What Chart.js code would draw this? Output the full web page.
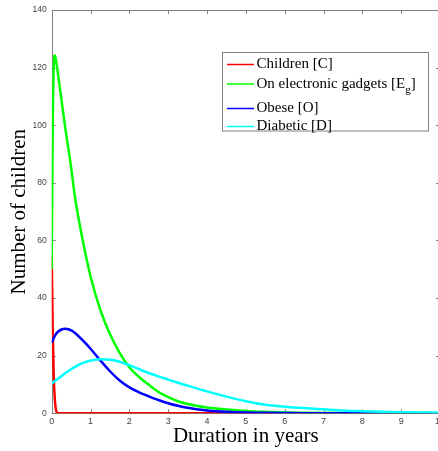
<!DOCTYPE html>
<html><head><meta charset="utf-8">
<script src="https://cdn.jsdelivr.net/npm/chart.js@4/dist/chart.umd.min.js"></script>
<style>
html,body{margin:0;padding:0;overflow:hidden;background:#fff;width:438px;height:451px}
#wrap{position:absolute;left:0;top:0;width:448px;height:451px}
</style>
</head><body>
<div id="wrap"><canvas id="c" width="448" height="451"></canvas></div>
<script>
// ---- data ----
const years = [0,0.025,0.05,0.075,0.1,0.125,0.15,0.2,0.25,0.3,0.35,0.4,0.5,0.6,0.75,0.9,1,1.25,1.5,1.75,2,2.25,2.5,2.75,3,3.25,3.5,4,4.5,5,5.5,6,6.5,7,7.5,8,8.5,9,9.5,10];
const children = [55,30,14,6,2,0.5,0.1,0,0,0,0,0,0,0,0,0,0,0,0,0,0,0,0,0,0,0,0,0,0,0,0,0,0,0,0,0,0,0,0,0];
const gadgets = [50,98,119,124.3,123.5,121.5,119,114,109,104,99,94.5,85.5,75,63.5,53.5,47.5,36,27.5,21,16,12.6,9.9,7.4,5.6,4.2,3.2,2.0,1.3,0.8,0.5,0.3,0.2,0.12,0.08,0.05,0.03,0.02,0.01,0.01];
const obese = [24.5,25.3,26.0,26.7,27.3,27.8,28.2,28.7,29.1,29.3,29.35,29.3,28.8,27.9,26.0,23.9,22.4,18.4,14.6,11.4,9.0,7.3,5.9,4.6,3.5,2.6,1.9,1.0,0.5,0.25,0.15,0.1,0.06,0.04,0.03,0.02,0.01,0.01,0,0];
const diabetic = [10.3,10.6,10.9,11.1,11.4,11.7,11.9,12.4,12.9,13.4,14.0,14.4,15.3,16.1,17.2,17.9,18.3,18.8,18.6,17.9,16.7,15.3,14.0,12.8,11.7,10.6,9.6,7.6,5.8,4.2,3.0,2.3,1.8,1.4,1.0,0.75,0.55,0.4,0.3,0.2];
const seriesLabels = ['Children [C]','On electronic gadgets [E_{g}]','Obese [O]','Diabetic [D]'];
const xTickValues = [0,1,2,3,4,5,6,7,8,9,10];
const yTickValues = [0,20,40,60,80,100,120,140];
const xTitle = 'Duration in years';
const yTitle = 'Number of children';

const colors = ['#ff0000','#00ff00','#0000ff','#00ffff'];
const seriesData = [children, gadgets, obese, diabetic];
const pts = arr => years.map((t,i)=>({x:t,y:arr[i]}));

const frame = {
  id:'frame',
  beforeDatasetsDraw(chart){
    const {ctx, chartArea:a, scales:{x,y}} = chart;
    ctx.save();
    ctx.strokeStyle='#7f7f7f'; ctx.lineWidth=1;
    ctx.beginPath();
    x.ticks.forEach(t=>{const p=Math.round(x.getPixelForValue(t.value))+0.5;
      ctx.moveTo(p,a.bottom); ctx.lineTo(p,a.bottom-4);
      ctx.moveTo(p,a.top); ctx.lineTo(p,a.top+4);});
    y.ticks.forEach(t=>{const p=Math.round(y.getPixelForValue(t.value))+0.5;
      ctx.moveTo(a.left,p); ctx.lineTo(a.left+4,p);
      ctx.moveTo(a.right,p); ctx.lineTo(a.right-4,p);});
    ctx.stroke();
    ctx.strokeRect(Math.round(a.left)+0.5, Math.round(a.top)+0.5, Math.round(a.right-a.left), Math.round(a.bottom-a.top));
    ctx.restore();
  }
};

const legendBox = {
  id:'legendBox',
  afterDraw(chart){
    const ctx = chart.ctx;
    const box = {x:222.5, y:52.5, w:206, h:78.5};
    const rows = [64.5, 84, 108.5, 126.5];
    ctx.save();
    ctx.fillStyle='#fff'; ctx.fillRect(box.x,box.y,box.w,box.h);
    ctx.strokeStyle='#808080'; ctx.lineWidth=1; ctx.strokeRect(box.x,box.y,box.w,box.h);
    seriesLabels.forEach((lab,i)=>{
      const yy = rows[i];
      ctx.strokeStyle = colors[i]; ctx.lineWidth = 1.5;
      ctx.beginPath(); ctx.moveTo(227,yy); ctx.lineTo(254,yy); ctx.stroke();
      ctx.fillStyle='#000'; ctx.textBaseline='middle'; ctx.textAlign='left';
      let xx = 256.5;
      const parts = lab.split(/(_\{[^}]*\})/);
      parts.forEach(p=>{
        if(!p) return;
        if(p.startsWith('_{')){
          const s = p.slice(2,-1);
          ctx.font='11px "Liberation Serif"';
          ctx.fillText(s, xx, yy+6);
          xx += ctx.measureText(s).width;
        } else {
          ctx.font='15px "Liberation Serif"';
          ctx.fillText(p, xx, yy);
          xx += ctx.measureText(p).width;
        }
      });
    });
    ctx.restore();
  }
};

new Chart(document.getElementById('c'), {
  type:'line',
  data:{
    datasets: seriesData.map((arr,i)=>({
      label: seriesLabels[i].replace(/_\{([^}]*)\}/,'$1'),
      data: pts(arr),
      borderColor: colors[i],
      backgroundColor: colors[i],
      borderWidth: 2.5,
      pointRadius: 0,
      fill: false,
      cubicInterpolationMode: 'monotone',
      order: 4-i
    }))
  },
  options:{
    responsive:false,
    animation:false,
    devicePixelRatio:1,
    layout:{padding:{left:0, top:7.5, right:7, bottom:0}},
    plugins:{legend:{display:false}, tooltip:{enabled:false}},
    scales:{
      x:{
        type:'linear', min:0, max:10,
        afterBuildTicks: s => { s.ticks = xTickValues.map(v=>({value:v})); },
        afterFit: s => { s.height = 37.7; },
        grid:{display:false, drawTicks:false},
        border:{display:false},
        ticks:{padding:3, color:'#444', font:{family:'Liberation Sans', size:9}, maxRotation:0},
        title:{display:true, text:xTitle, color:'#000', font:{family:'Liberation Serif', size:21}, padding:{top:0,bottom:2}}
      },
      y:{
        type:'linear', min:0, max:140,
        afterBuildTicks: s => { s.ticks = yTickValues.map(v=>({value:v})); },
        afterFit: s => { s.width = 51.7; },
        grid:{display:false, drawTicks:false},
        border:{display:false},
        ticks:{padding:5, color:'#444', font:{family:'Liberation Sans', size:8.5}},
        title:{display:true, text:yTitle, color:'#000', font:{family:'Liberation Serif', size:21}, padding:{top:7,bottom:0}}
      }
    }
  },
  plugins:[frame, legendBox]
});
</script>
</body></html>
